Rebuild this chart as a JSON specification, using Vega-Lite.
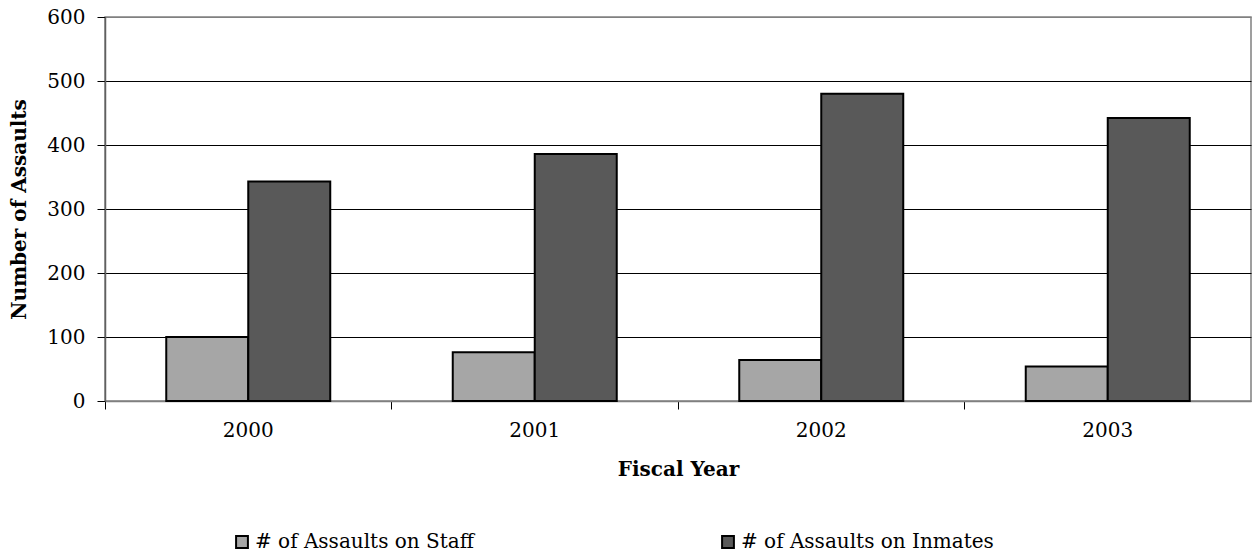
{
  "$schema": "https://vega.github.io/schema/vega-lite/v6.json",
  "width": 1146,
  "height": 384,
  "autosize": {"type": "none"},
  "padding": {"left": 105, "top": 17, "right": 1, "bottom": 155},
  "background": "white",
  "config": {
    "font": "DejaVu Serif",
    "axis": {"labelFont": "DejaVu Serif", "titleFont": "DejaVu Serif"},
    "legend": {"labelFont": "DejaVu Serif", "titleFont": "DejaVu Serif"},
    "view": {"stroke": "#808080", "strokeWidth": 1.5}
  },
  "data": {
    "values": [
      {"year": "2000", "series": "# of Assaults on Staff", "value": 100},
      {"year": "2000", "series": "# of Assaults on Inmates", "value": 343},
      {"year": "2001", "series": "# of Assaults on Staff", "value": 76},
      {"year": "2001", "series": "# of Assaults on Inmates", "value": 386},
      {"year": "2002", "series": "# of Assaults on Staff", "value": 64},
      {"year": "2002", "series": "# of Assaults on Inmates", "value": 480},
      {"year": "2003", "series": "# of Assaults on Staff", "value": 54},
      {"year": "2003", "series": "# of Assaults on Inmates", "value": 442}
    ]
  },
  "mark": {"type": "bar", "stroke": "black", "strokeWidth": 2},
  "encoding": {
    "x": {
      "field": "year",
      "type": "nominal",
      "scale": {"paddingInner": 0.4276, "paddingOuter": 0.2138},
      "axis": {
        "title": "Fiscal Year",
        "titleFontSize": 20,
        "titleFontWeight": "bold",
        "titleColor": "black",
        "titlePadding": 19,
        "labelAngle": 0,
        "labelFontSize": 20,
        "labelColor": "black",
        "labelPadding": 11,
        "bandPosition": -0.3735,
        "tickSize": 8,
        "tickColor": "black",
        "domainColor": "#808080",
        "domainWidth": 1.5,
        "grid": false
      }
    },
    "xOffset": {
      "field": "series",
      "type": "nominal",
      "sort": ["# of Assaults on Staff", "# of Assaults on Inmates"],
      "scale": {"paddingInner": 0, "paddingOuter": 0}
    },
    "y": {
      "field": "value",
      "type": "quantitative",
      "scale": {"domain": [0, 600], "nice": false},
      "axis": {
        "title": "Number of Assaults",
        "titleFontSize": 20,
        "titleFontWeight": "bold",
        "titleColor": "black",
        "titlePadding": 17,
        "values": [0, 100, 200, 300, 400, 500, 600],
        "labelFontSize": 20,
        "labelColor": "black",
        "labelPadding": 12,
        "tickSize": 8,
        "tickColor": "black",
        "domainColor": "#606060",
        "domainWidth": 1.5,
        "grid": true,
        "gridColor": {"condition": {"test": "datum.value == 600 || datum.value == 0", "value": "#808080"}, "value": "black"},
        "gridWidth": 1.2
      }
    },
    "color": {
      "field": "series",
      "type": "nominal",
      "sort": ["# of Assaults on Staff", "# of Assaults on Inmates"],
      "scale": {"domain": ["# of Assaults on Staff", "# of Assaults on Inmates"], "range": ["#a6a6a6", "#595959"]},
      "legend": {
        "title": null,
        "orient": "none",
        "direction": "horizontal",
        "legendX": 127,
        "legendY": 515,
        "symbolType": "square",
        "symbolSize": 140,
        "symbolStrokeColor": "black",
        "symbolStrokeWidth": 2,
        "symbolOpacity": 1,
        "labelFontSize": 20,
        "labelLimit": 0,
        "labelColor": "black",
        "labelOffset": 3,
        "columnPadding": 244
      }
    }
  }
}
